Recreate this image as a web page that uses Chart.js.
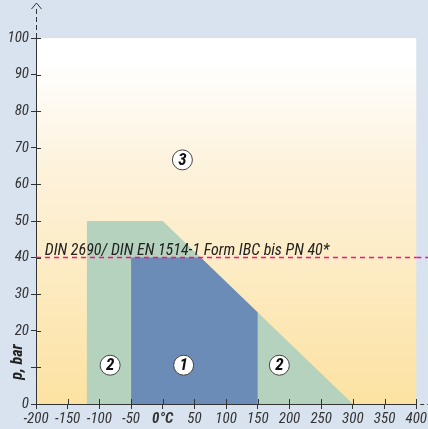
<!DOCTYPE html>
<html>
<head>
<meta charset="utf-8">
<script src="https://cdn.jsdelivr.net/npm/chart.js@4/dist/chart.umd.min.js"></script>
<style>
html,body{margin:0;padding:0;background:#d9e3ef;}
#wrap{width:428px;height:429px;}
</style>
</head>
<body>
<div id="wrap"><canvas id="c" width="428" height="429"></canvas></div>
<script>
// ---- data ----
const greenX = [-120, -120, 0, 300];
const greenY = [0, 50, 50, 0];
const blueX = [-50, -50, 60, 150, 150];
const blueY = [0, 40, 40, 25, 0];
const limitX = [-200, 400];
const limitY = [40, 40];
const limitText = 'DIN 2690/ DIN EN 1514-1 Form IBC bis PN 40*';
const zoneLabels = ['3', '2', '1', '2'];
const zoneX = [31, -83, 33, 184];
const zoneY = [66.7, 10.6, 10.6, 10.6];
const xTicks = [-200, -150, -100, -50, 0, 50, 100, 150, 200, 250, 300, 350, 400];
const yTicks = [0, 10, 20, 30, 40, 50, 60, 70, 80, 90, 100];
const yTitle = 'p, bar';

const FONT = "'Liberation Sans Narrow','Arial Narrow','Roboto Condensed',sans-serif";
const AX = '#333333';
const MAGENTA = '#ff0a8c';

const toPts = (xs, ys) => xs.map((x, i) => ({x, y: ys[i]}));

const decor = {
  id: 'decor',
  beforeDraw(chart) {
    const {ctx, chartArea: a} = chart;
    const g = ctx.createLinearGradient(0, a.top, 0, a.bottom);
    g.addColorStop(0, '#ffffff');
    g.addColorStop(0.07, '#ffffff');
    g.addColorStop(0.35, '#fdf2dc');
    g.addColorStop(1, '#fce2a2');
    ctx.save();
    ctx.fillStyle = g;
    ctx.fillRect(a.left, a.top, a.right - a.left, a.bottom - a.top);
    ctx.restore();
  },
  afterDraw(chart) {
    const {ctx, chartArea: a, scales: {x, y}} = chart;
    ctx.save();
    ctx.strokeStyle = AX;
    ctx.fillStyle = AX;
    ctx.lineWidth = 1;
    // inner tick parts
    ctx.beginPath();
    xTicks.forEach(v => { const px = Math.round(x.getPixelForValue(v)) + 0.5; ctx.moveTo(px, a.bottom); ctx.lineTo(px, a.bottom - 5); });
    yTicks.forEach(v => { const py = Math.round(y.getPixelForValue(v)) + 0.5; ctx.moveTo(a.left, py); ctx.lineTo(a.left + 5, py); });
    ctx.stroke();
    // y-axis arrow + dashed extension
    const ax = Math.round(a.left) + 0.5;
    ctx.setLineDash([5, 3]);
    ctx.beginPath(); ctx.moveTo(ax, a.top); ctx.lineTo(ax, 6); ctx.stroke();
    ctx.setLineDash([]);
    ctx.beginPath(); ctx.moveTo(ax - 5, 9); ctx.lineTo(ax, 3); ctx.lineTo(ax + 5, 9); ctx.stroke();
    // x-axis extension
    const ay = Math.round(a.bottom) + 0.5;
    ctx.setLineDash([4, 3]);
    ctx.beginPath(); ctx.moveTo(a.right + 4, ay); ctx.lineTo(chart.width, ay); ctx.stroke();
    ctx.setLineDash([]);
    // dashed limit line extension beyond the plot
    ctx.strokeStyle = MAGENTA;
    ctx.lineWidth = 1.5;
    ctx.setLineDash([5, 4]);
    const ly = y.getPixelForValue(limitY[1]);
    ctx.beginPath(); ctx.moveTo(a.right, ly); ctx.lineTo(chart.width, ly); ctx.stroke();
    ctx.setLineDash([]);
    // limit text
    ctx.fillStyle = '#222';
    ctx.font = 'italic 16px ' + FONT;
    ctx.textAlign = 'left';
    ctx.textBaseline = 'alphabetic';
    ctx.fillText(limitText, x.getPixelForValue(-186), y.getPixelForValue(40.8));
    // zone labels
    zoneLabels.forEach((t, i) => {
      const cx = x.getPixelForValue(zoneX[i]), cy = y.getPixelForValue(zoneY[i]);
      ctx.beginPath(); ctx.arc(cx, cy, 10, 0, Math.PI * 2);
      ctx.fillStyle = '#ffffff'; ctx.fill();
      ctx.strokeStyle = '#444'; ctx.lineWidth = 1; ctx.stroke();
      ctx.fillStyle = '#111';
      ctx.font = 'italic bold 17px ' + FONT;
      ctx.textAlign = 'center'; ctx.textBaseline = 'middle';
      ctx.fillText(t, cx, cy + 1);
    });
    // y title
    ctx.save();
    ctx.translate(18, 362);
    ctx.rotate(-Math.PI / 2);
    ctx.fillStyle = '#222';
    ctx.font = 'italic bold 16px ' + FONT;
    ctx.textAlign = 'center'; ctx.textBaseline = 'middle';
    ctx.fillText(yTitle, 0, 0);
    ctx.restore();
    ctx.restore();
  }
};

new Chart(document.getElementById('c'), {
  type: 'line',
  data: {
    datasets: [
      {data: toPts(limitX, limitY), borderColor: MAGENTA, borderWidth: 1.5, borderDash: [5, 4], pointRadius: 0, fill: false, order: 1},
      {data: toPts(blueX, blueY), borderWidth: 0, borderColor: 'rgba(0,0,0,0)', backgroundColor: '#6a8cb6', pointRadius: 0, fill: 'origin', tension: 0, order: 2},
      {data: toPts(greenX, greenY), borderWidth: 0, borderColor: 'rgba(0,0,0,0)', backgroundColor: '#b4d2bd', pointRadius: 0, fill: 'origin', tension: 0, order: 3}
    ]
  },
  options: {
    responsive: false,
    animation: false,
    devicePixelRatio: 1,
    layout: {padding: {top: 38, right: 9, left: 0, bottom: 0}},
    plugins: {legend: {display: false}, tooltip: {enabled: false}},
    scales: {
      x: {
        type: 'linear', min: -200, max: 400,
        afterBuildTicks: s => { s.ticks = xTicks.map(v => ({value: v})); },
        afterFit: s => { s.height = 25; },
        ticks: {
          autoSkip: false, maxRotation: 0, padding: 1, color: '#333',
          callback: v => v === 0 ? '0°C' : String(v),
          font: ctx => (ctx.tick && ctx.tick.value === 0)
            ? {family: FONT, size: 15, style: 'italic', weight: 'bold'}
            : {family: FONT, size: 15, style: 'italic'}
        },
        grid: {display: true, drawOnChartArea: false, drawTicks: true, tickLength: 5, color: AX},
        border: {display: true, color: AX, width: 1}
      },
      y: {
        type: 'linear', min: 0, max: 100,
        afterBuildTicks: s => { s.ticks = yTicks.map(v => ({value: v})); },
        afterFit: s => { s.width = 36; },
        ticks: {
          autoSkip: false, padding: 2, color: '#333',
          callback: v => v === 10 ? '' : String(v),
          font: {family: FONT, size: 15, style: 'italic'}
        },
        grid: {display: true, drawOnChartArea: false, drawTicks: true, tickLength: 5, color: AX},
        border: {display: true, color: AX, width: 1}
      }
    }
  },
  plugins: [decor]
});
</script>
</body>
</html>
